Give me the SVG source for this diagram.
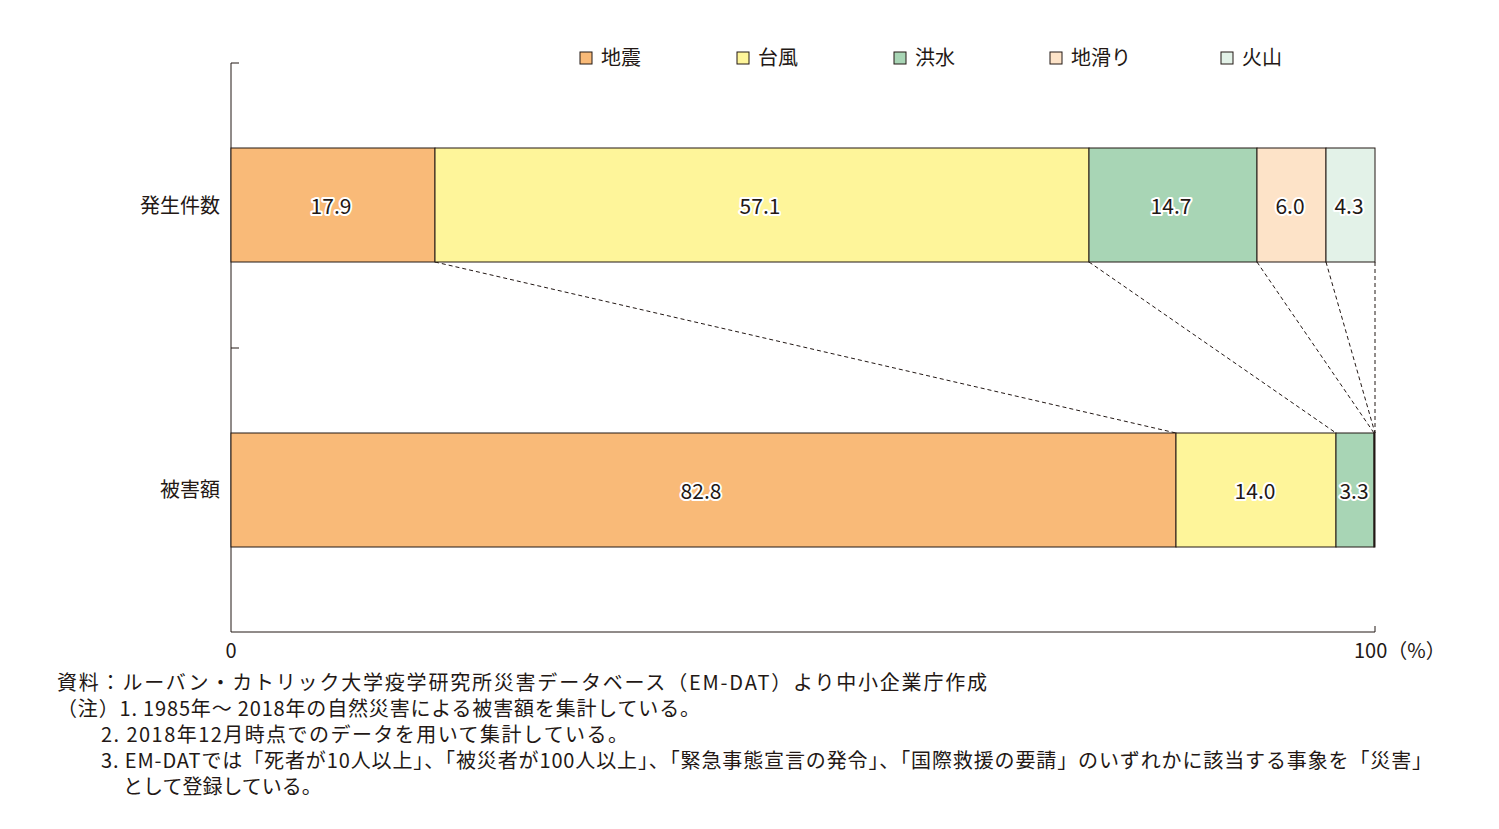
<svg xmlns="http://www.w3.org/2000/svg" width="1499" height="829" viewBox="0 0 1499 829">
<style>
text{font-family:"Noto Sans CJK JP","Noto Sans",sans-serif;fill:#231815}
.v{font-size:21px;text-anchor:middle;stroke:#fff;stroke-width:4;paint-order:stroke;stroke-linejoin:round}
.c{font-size:20px}
.n{font-size:20px}
.b{stroke:#231815;stroke-width:1}
.d{stroke:#231815;stroke-width:1;stroke-dasharray:4 3;fill:none}
.eq{fill:#F9BA78}.ty{fill:#FEF59A}.fl{fill:#A8D5B5}.ls{fill:#FDE3C8}.vo{fill:#E3F2E8}
</style>
<g id="axes" stroke="#231815" stroke-width="1" fill="none">
<path d="M231 63V632H1375V626M231 63h8M231 348h8"/>
</g>
<g id="legend" class="c">
<rect x="580" y="52" width="12" height="12" class="eq b"/><text x="601" y="65">地震</text>
<rect x="737" y="52" width="12" height="12" class="ty b"/><text x="758" y="65">台風</text>
<rect x="894" y="52" width="12" height="12" class="fl b"/><text x="915" y="65">洪水</text>
<rect x="1050" y="52" width="12" height="12" class="ls b"/><text x="1071" y="65">地滑り</text>
<rect x="1221" y="52" width="12" height="12" class="vo b"/><text x="1242" y="65">火山</text>
</g>
<g id="connectors">
<line x1="435" y1="262" x2="1176" y2="433" class="d"/>
<line x1="1089" y1="262" x2="1336" y2="433" class="d"/>
<line x1="1257" y1="262" x2="1374" y2="433" class="d"/>
<line x1="1326" y1="262" x2="1375" y2="433" class="d"/>
<line x1="1375" y1="262" x2="1375" y2="433" class="d"/>
</g>
<g id="bar-count">
<text x="220" y="213" class="c" text-anchor="end">発生件数</text>
<rect x="231" y="148" width="204" height="114" class="eq b"/>
<rect x="435" y="148" width="654" height="114" class="ty b"/>
<rect x="1089" y="148" width="168" height="114" class="fl b"/>
<rect x="1257" y="148" width="69" height="114" class="ls b"/>
<rect x="1326" y="148" width="49" height="114" class="vo b"/>
<text x="331" y="214" class="v">17.9</text>
<text x="760" y="214" class="v">57.1</text>
<text x="1171" y="214" class="v">14.7</text>
<text x="1290" y="214" class="v">6.0</text>
<text x="1349" y="214" class="v">4.3</text>
</g>
<g id="bar-damage">
<text x="220" y="497" class="c" text-anchor="end">被害額</text>
<rect x="231" y="433" width="945" height="114" class="eq b"/>
<rect x="1176" y="433" width="160" height="114" class="ty b"/>
<rect x="1336" y="433" width="38" height="114" class="fl b"/>
<rect x="1374" y="433" width="1" height="114" class="ls b"/>
<text x="701" y="499" class="v">82.8</text>
<text x="1255" y="499" class="v">14.0</text>
<text x="1354" y="499" class="v">3.3</text>
</g>
<g id="ticks" class="n">
<text x="231" y="658" text-anchor="middle">0</text>
<text x="1354" y="658">100（%）</text>
</g>
<g id="notes" class="n">
<text x="57" y="690" textLength="930" lengthAdjust="spacing">資料：ルーバン・カトリック大学疫学研究所災害データベース（EM-DAT）より中小企業庁作成</text>
<text x="57" y="716" textLength="643" lengthAdjust="spacing">（注）1. 1985年～ 2018年の自然災害による被害額を集計している。</text>
<text x="101" y="742" textLength="527" lengthAdjust="spacing">2. 2018年12月時点でのデータを用いて集計している。</text>
<text x="101" y="768" textLength="1331" lengthAdjust="spacing">3. EM-DATでは「死者が10人以上」、「被災者が100人以上」、「緊急事態宣言の発令」、「国際救援の要請」のいずれかに該当する事象を「災害」</text>
<text x="123" y="794">として登録している。</text>
</g>
</svg>
